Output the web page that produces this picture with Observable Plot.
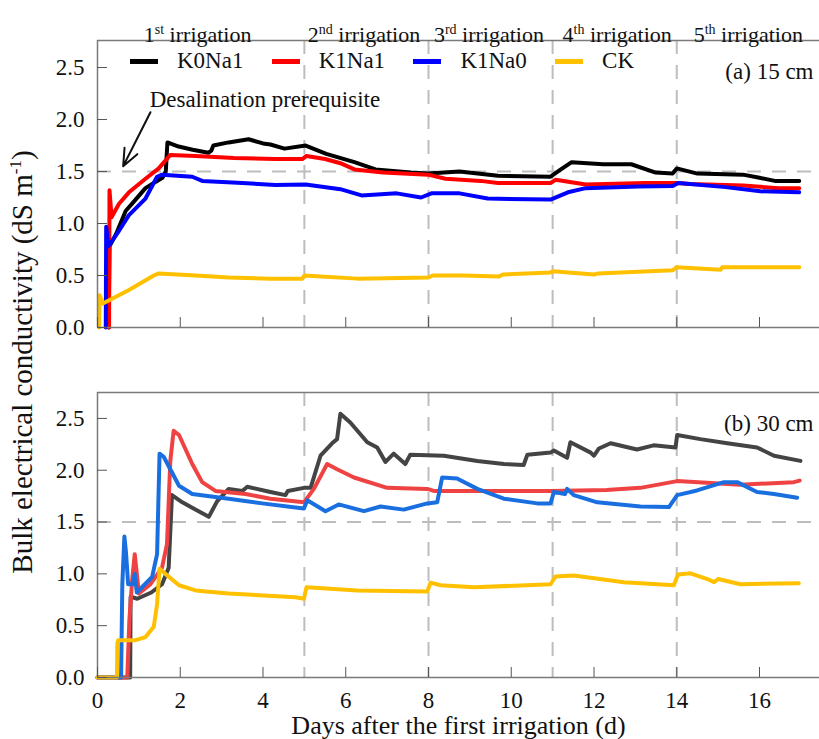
<!DOCTYPE html>
<html>
<head>
<meta charset="utf-8">
<script src="https://cdn.jsdelivr.net/npm/d3@7"></script>
<script src="https://cdn.jsdelivr.net/npm/@observablehq/plot@0.6"></script>
<style>
  html, body { margin: 0; padding: 0; background: #fff; }
  #chart { position: relative; width: 819px; height: 739px; font-family: "Liberation Serif", "Times New Roman", serif; color: #111; overflow: hidden; }
  #top, #bottom { position: absolute; left: 0; }
  #top { top: 0; }
  #bottom { top: 340px; }
  #ylabel { position: absolute; left: 22px; top: 362px; transform: translate(-50%, -50%) rotate(-90deg); white-space: nowrap; font-size: 29px; }
  #ylabel sup { font-size: 17px; vertical-align: 11px; line-height: 0; }
  #legend { position: absolute; top: 47px; left: 0; height: 28px; font-size: 23px; }
  .item { position: absolute; top: 0; display: flex; align-items: center; height: 28px; white-space: nowrap; }
  .sw { width: 28px; height: 5px; margin-right: 19px; }
</style>
</head>
<body>
<div id="chart">
  <div id="top"></div>
  <div id="bottom"></div>
  <div id="ylabel">Bulk electrical conductivity (dS m<sup>-1</sup>)</div>
  <div id="legend"></div>
</div>
<script>
// ---------- data ----------
const seriesNames = ["K0Na1", "K1Na1", "K1Na0", "CK"];
const irrigationOrd = ["1st", "2nd", "3rd", "4th", "5th"];
const irrigationLabelDay = [2.42, 6.44, 9.46, 12.56, 15.73];
const irrigationDays = [5, 8, 11, 14];
const threshold = 1.5;
const xTicks = [0, 2, 4, 6, 8, 10, 12, 14, 16];
const yTicks = [0, 0.5, 1.0, 1.5, 2.0, 2.5];
const panelLabels = ["(a) 15 cm", "(b) 30 cm"];
const annotation = [{day: 1.26, value: 2.19, label: "Desalination prerequisite"}];
const annotationArrow = [{day1: 1.28, value1: 2.07, day2: 0.62, value2: 1.55}];

// 15 cm  [day, EC]
const top_K0Na1 = [[0.27,0],[0.29,0.78],[0.45,0.9],[0.68,1.12],[0.9,1.22],[1.16,1.34],[1.4,1.40],[1.57,1.44],[1.65,1.5],[1.69,1.78],[1.96,1.74],[2.3,1.71],[2.68,1.68],[2.75,1.70],[2.8,1.75],[3.17,1.78],[3.65,1.81],[4.0,1.77],[4.18,1.76],[4.52,1.72],[5.03,1.75],[5.53,1.67],[6.21,1.59],[6.72,1.52],[7.57,1.49],[7.99,1.48],[8.75,1.50],[9.68,1.46],[10.95,1.45],[11.2,1.52],[11.46,1.59],[12.22,1.57],[12.9,1.57],[13.49,1.49],[13.9,1.48],[14.0,1.53],[14.5,1.48],[15.6,1.47],[16.0,1.44],[16.37,1.41],[16.96,1.41]];
const top_K1Na1 = [[0.28,0],[0.29,1.32],[0.34,1.06],[0.52,1.19],[0.76,1.30],[1.16,1.43],[1.48,1.53],[1.76,1.66],[2.37,1.65],[3.3,1.63],[4.3,1.62],[4.95,1.62],[5.05,1.65],[5.5,1.62],[5.87,1.58],[6.21,1.52],[6.9,1.49],[7.99,1.47],[8.41,1.43],[9.26,1.41],[9.68,1.39],[10.95,1.39],[11.07,1.42],[11.8,1.375],[13.25,1.39],[14.0,1.39],[14.33,1.38],[15.6,1.365],[16.45,1.34],[16.96,1.34]];
const top_K1Na0 = [[0.2,0],[0.21,0.97],[0.26,0.78],[0.52,0.93],[0.76,1.08],[1.16,1.24],[1.44,1.45],[1.56,1.47],[2.29,1.45],[2.53,1.41],[3.5,1.39],[4.3,1.37],[5.03,1.375],[5.87,1.33],[6.38,1.27],[7.23,1.29],[7.82,1.25],[8.07,1.29],[8.75,1.29],[9.43,1.24],[10.95,1.23],[11.37,1.30],[11.8,1.34],[13.07,1.355],[13.9,1.36],[14.04,1.39],[15.18,1.35],[16.02,1.31],[16.96,1.30]];
const top_CK = [[0.04,0],[0.05,0.31],[0.13,0.23],[0.76,0.36],[1.36,0.50],[1.48,0.52],[2.37,0.50],[3.17,0.48],[4.18,0.47],[4.95,0.47],[5.0,0.50],[6.28,0.47],[8.0,0.48],[8.1,0.50],[8.85,0.50],[9.7,0.49],[9.8,0.51],[10.95,0.53],[11.0,0.54],[12.0,0.51],[12.1,0.52],[13.9,0.55],[14.0,0.58],[15.06,0.555],[15.1,0.58],[16.96,0.58]];

// 30 cm  [day, EC]
const bot_K0Na1 = [[0,0],[0.79,0],[0.8,0.78],[0.96,0.76],[1.3,0.82],[1.56,0.90],[1.72,1.06],[1.80,1.76],[2.05,1.69],[2.69,1.55],[2.77,1.61],[2.89,1.70],[3.17,1.82],[3.5,1.80],[3.62,1.84],[4.18,1.79],[4.54,1.76],[4.6,1.80],[4.99,1.83],[5.15,1.83],[5.39,2.14],[5.67,2.26],[5.79,2.30],[5.87,2.545],[6.11,2.46],[6.52,2.27],[6.76,2.22],[6.96,2.08],[7.16,2.16],[7.44,2.06],[7.56,2.15],[8.37,2.14],[9.18,2.09],[9.82,2.06],[10.3,2.05],[10.39,2.15],[10.95,2.17],[11.03,2.19],[11.35,2.12],[11.43,2.27],[11.92,2.17],[12.0,2.14],[12.12,2.21],[12.4,2.26],[13.04,2.20],[13.44,2.24],[13.97,2.22],[14.01,2.34],[14.57,2.30],[15.22,2.26],[15.94,2.22],[16.35,2.14],[16.99,2.09]];
const bot_K1Na1 = [[0,0],[0.72,0],[0.77,0.55],[0.84,0.95],[0.90,1.19],[1.0,0.81],[1.28,0.90],[1.56,1.06],[1.68,1.29],[1.76,2.09],[1.84,2.38],[1.97,2.34],[2.29,2.06],[2.53,1.885],[2.85,1.80],[3.58,1.77],[4.18,1.725],[4.99,1.69],[5.23,1.82],[5.55,2.06],[5.79,2.01],[6.2,1.93],[7.0,1.83],[7.97,1.82],[8.13,1.80],[10.95,1.80],[12.3,1.81],[13.12,1.83],[14.01,1.895],[15.54,1.86],[16.83,1.885],[16.97,1.90]];
const bot_K1Na0 = [[0,0],[0.57,0],[0.6,0.9],[0.65,1.36],[0.69,1.2],[0.74,0.90],[0.84,0.90],[0.90,1.0],[0.95,0.82],[1.32,0.97],[1.44,1.19],[1.50,2.16],[1.60,2.13],[1.97,1.85],[2.29,1.77],[3.17,1.725],[3.98,1.68],[4.99,1.63],[5.07,1.71],[5.51,1.605],[5.83,1.67],[6.44,1.605],[6.84,1.65],[7.4,1.62],[7.97,1.68],[8.21,1.69],[8.33,1.93],[8.69,1.92],[9.18,1.82],[9.82,1.725],[10.63,1.68],[10.95,1.68],[11.03,1.79],[11.3,1.77],[11.35,1.82],[11.51,1.76],[12.08,1.69],[13.12,1.65],[13.81,1.645],[14.01,1.76],[14.49,1.805],[15.14,1.885],[15.46,1.885],[15.94,1.79],[16.35,1.77],[16.91,1.735]];
const bot_CK = [[0,0],[0.47,0],[0.48,0.33],[0.5,0.36],[0.92,0.36],[1.16,0.39],[1.36,0.49],[1.44,0.71],[1.50,1.05],[1.64,1.0],[1.97,0.89],[2.37,0.84],[3.17,0.81],[4.79,0.775],[4.99,0.76],[5.05,0.87],[6.28,0.84],[7.97,0.83],[8.05,0.915],[8.29,0.89],[9.1,0.87],[10.95,0.90],[11.07,0.975],[11.51,0.985],[12.72,0.92],[13.93,0.89],[14.03,0.995],[14.33,1.005],[14.74,0.95],[14.9,0.92],[15.0,0.95],[15.54,0.90],[16.95,0.91]];

const topColors = ["#000000", "#ff0000", "#0000ff", "#ffc000"];
const botColors = ["#444444", "#ef4343", "#1a6fe0", "#ffc000"];

// ---------- chart ----------
const X_MAX = 17.45;
const font = "'Liberation Serif', 'Times New Roman', serif";
const grey = "#bdbdbd";
const axisGrey = "#7a7a7a";

function panel({series, colors, yMax, height, marginTop, marginBottom, label, isTop}) {
  const marks = [
    Plot.ruleX(irrigationDays, {stroke: grey, strokeWidth: 2, strokeDasharray: "14,11"}),
    Plot.ruleY([threshold], {stroke: grey, strokeWidth: 2, strokeDasharray: "14,11"}),
    ...series.map((s, i) => Plot.line(s, {x: d => d[0], y: d => d[1], stroke: colors[i], strokeWidth: 4, strokeLinejoin: "round", strokeLinecap: "round"})),
    Plot.ruleX([0], {stroke: axisGrey, strokeWidth: 1.5}),
    Plot.ruleY([0, yMax], {stroke: axisGrey, strokeWidth: 1.5}),
    Plot.axisY({ticks: yTicks, tickSize: -10, tickPadding: 23, tickFormat: d3.format(".1f"), label: null, stroke: "#555", fontSize: 23}),
    Plot.axisX({ticks: xTicks, tickSize: -10, tickPadding: isTop ? 0 : 24, tickFormat: isTop ? () => "" : d => String(d), label: null, stroke: "#555", fontSize: 23}),
    Plot.text([label], {frameAnchor: "top-right", dx: -6, dy: 22, textAnchor: "end", fontSize: 23, fill: "#111"})
  ];
  if (isTop) {
    marks.push(
      Plot.text(irrigationOrd, {x: (d, i) => irrigationLabelDay[i], frameAnchor: "top", dy: -14, text: d => d + " irrigation", fontSize: 22, fill: "#111"}),
      Plot.text(annotation, {x: "day", y: "value", text: "label", textAnchor: "start", fontSize: 23, fill: "#111"}),
      Plot.arrow(annotationArrow, {x1: "day1", y1: "value1", x2: "day2", y2: "value2", stroke: "#111", strokeWidth: 2, headLength: 14, headAngle: 45})
    );
  } else {
    marks.push(Plot.text(["Days after the first irrigation (d)"], {frameAnchor: "bottom", dy: 56, fontSize: 26, fill: "#111"}));
  }
  return Plot.plot({
    width: 819, height,
    marginLeft: 97, marginRight: 0, marginTop, marginBottom,
    x: {domain: [0, X_MAX]},
    y: {domain: [0, yMax]},
    style: {fontFamily: font, fontSize: "23px", background: "transparent", overflow: "visible", color: "#111"},
    marks
  });
}

const topPlot = panel({series: [top_K0Na1, top_K1Na1, top_K1Na0, top_CK], colors: topColors, yMax: 2.76, height: 340, marginTop: 40, marginBottom: 13, label: panelLabels[0], isTop: true});
const botPlot = panel({series: [bot_K0Na1, bot_K1Na1, bot_K1Na0, bot_CK], colors: botColors, yMax: 2.75, height: 399, marginTop: 52, marginBottom: 62, label: panelLabels[1], isTop: false});
document.getElementById("top").appendChild(topPlot);
document.getElementById("bottom").appendChild(botPlot);

// superscripts for irrigation ordinals
d3.select(topPlot).selectAll("text")
  .filter(function() { return / irrigation$/.test(this.textContent) && this.childElementCount === 0; })
  .each(function() {
    const ord = this.textContent.split(" ")[0];
    const t = d3.select(this);
    t.text(null);
    t.append("tspan").text(ord.slice(0, 1));
    t.append("tspan").attr("dy", "-8").attr("font-size", "14").text(ord.slice(1));
    t.append("tspan").attr("dy", "8").text(" irrigation");
  });

// legend
const legend = d3.select("#legend");
seriesNames.forEach((name, i) => {
  const item = legend.append("div").attr("class", "item").style("left", (130 + i * 141.7) + "px");
  item.append("div").attr("class", "sw").style("background", topColors[i]);
  item.append("span").text(name);
});
</script>
</body>
</html>
